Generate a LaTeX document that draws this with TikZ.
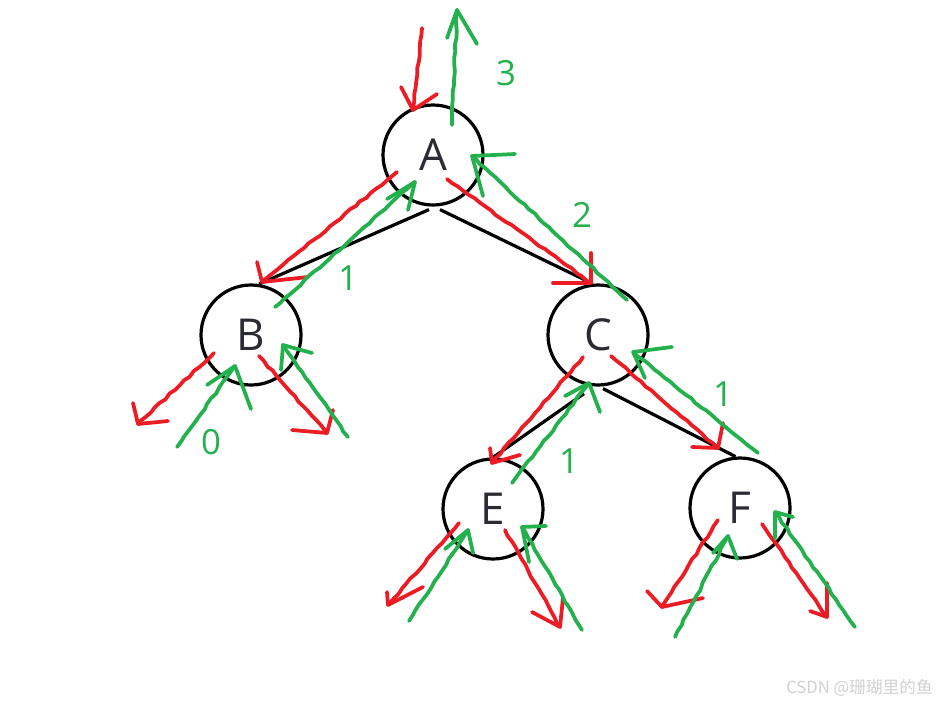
\documentclass[tikz,border=0pt]{standalone}
\usepackage{fontspec}
\setmainfont{Open Sans}
\newfontfamily\cjk{Noto Sans CJK SC}
\usetikzlibrary{decorations.pathmorphing}
\definecolor{pred}{HTML}{ED1C24}
\definecolor{pgreen}{HTML}{22B14C}
\definecolor{ink}{HTML}{2B2B33}
\newcommand\harrow[5]{%
  \draw[hand,#1,decorate,decoration={random steps,segment length=5pt,amplitude=0.6pt}] #2 -- #3;
  \draw[hand,#1] #4 -- #3 -- #5;}
\begin{document}
\begin{tikzpicture}[x=0.75pt,y=-0.75pt,
  tnode/.style={circle,draw=black,line width=2.4pt,minimum size=75pt,inner sep=0pt,
    font=\fontsize{33}{33}\selectfont,text=ink},
  edgeline/.style={line width=2.4pt,black},
  hand/.style={line width=2.8pt,line cap=round,line join=round},
  num/.style={text=pgreen,font=\fontsize{26}{26}\selectfont,inner sep=0pt}]
\pgfmathsetseed{7}
\fill[white] (0,0) rectangle (937,703);
\useasboundingbox (0,0) rectangle (937,703);

% tree nodes
\node[tnode] (A) at (433,155) {A};
\node[tnode] (B) at (251,335) {B};
\node[tnode] (C) at (598,335) {C};
\node[tnode] (E) at (493,509) {E};
\node[tnode] (F) at (740,508) {F};

% tree edges
\draw[edgeline] ([shift={(-4,3)}]A.south) -- (B.81);
\draw[edgeline] ([shift={(7,3)}]A.south) -- (C.96);
\draw[edgeline] ([shift={(-14,7)}]C.south) -- (E.north);
\draw[edgeline] ([shift={(5,2)}]C.south) -- (F.95);

% counts
\node[num] (n3) at (506,73) {3};
\node[num] (n1b) at (348,278) {1};
\node[num] (n2) at (582,215) {2};
\node[num] (n0) at (211,442) {0};
\node[num] (n1e) at (569,461) {1};
\node[num] (n1f) at (723,394) {1};

% A
\harrow{pred}{(422,28)}{(413,110)}{(401,87)}{(437,94)}
\harrow{pgreen}{(452,125)}{(457,10)}{(447,38)}{(477,44)}
\harrow{pred}{(397,172)}{(262,282)}{(257,262)}{(308,277)}
\harrow{pgreen}{(275,307)}{(415,182)}{(387,199)}{(408,210)}
\harrow{pred}{(447,179)}{(591,283)}{(591,253)}{(553,283)}
\harrow{pgreen}{(627,300)}{(472,156)}{(515,154)}{(483,196)}

% B
\harrow{pred}{(214,353)}{(138,424)}{(133,403)}{(168,421)}
\harrow{pgreen}{(177,447)}{(235,366)}{(207,385)}{(251,409)}
\harrow{pred}{(259,356)}{(327,433)}{(292,430)}{(333,410)}
\harrow{pgreen}{(348,437)}{(283,345)}{(312,353)}{(281,370)}

% C
\harrow{pred}{(583,357)}{(492,463)}{(490,448)}{(520,455)}
\harrow{pgreen}{(512,483)}{(589,383)}{(565,396)}{(600,412)}
\harrow{pred}{(611,356)}{(718,448)}{(723,423)}{(692,447)}
\harrow{pgreen}{(758,453)}{(633,352)}{(672,347)}{(645,378)}

% E
\harrow{pred}{(459,523)}{(388,605)}{(387,592)}{(423,587)}
\harrow{pgreen}{(409,621)}{(468,530)}{(445,549)}{(473,553)}
\harrow{pred}{(505,530)}{(560,627)}{(532,612)}{(563,598)}
\harrow{pgreen}{(582,630)}{(522,527)}{(546,526)}{(529,562)}

% F
\harrow{pred}{(718,520)}{(662,607)}{(647,591)}{(703,598)}
\harrow{pgreen}{(675,637)}{(728,536)}{(713,553)}{(737,559)}
\harrow{pred}{(762,524)}{(827,617)}{(810,611)}{(827,583)}
\harrow{pgreen}{(855,627)}{(775,512)}{(793,517)}{(775,538)}

% watermark
\node[text=black!18,font=\cjk\fontsize{12.5}{13}\selectfont,anchor=east,inner sep=0pt] (wm) at (933,688) {CSDN @珊瑚里的鱼};
\end{tikzpicture}
\end{document}
